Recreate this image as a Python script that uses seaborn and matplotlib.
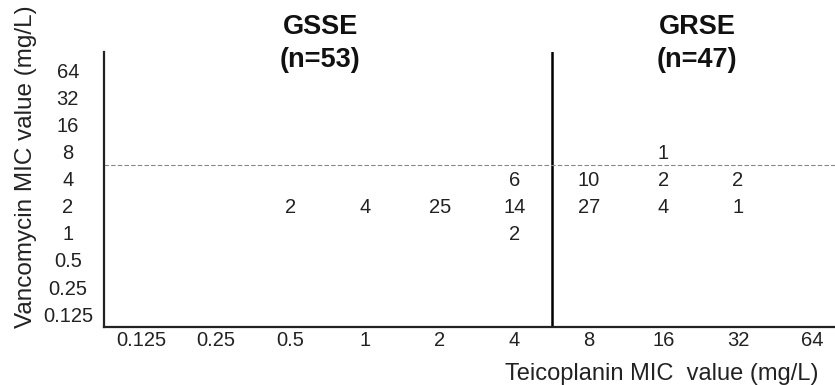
import numpy as np
import pandas as pd
import matplotlib
matplotlib.use("Agg")
import matplotlib.pyplot as plt
import seaborn as sns
from matplotlib.colors import ListedColormap

# MIC categories (mg/L)
teico_labels = ["0.125", "0.25", "0.5", "1", "2", "4", "8", "16", "32", "64"]
vanco_labels = ["64", "32", "16", "8", "4", "2", "1", "0.5", "0.25", "0.125"]

# number of isolates per (teicoplanin, vancomycin) cell
cell_teico = ["4", "8", "16", "32", "0.5", "1", "2", "4", "8", "16", "32", "4", "16"]
cell_vanco = ["4", "4", "4", "4", "2", "2", "2", "2", "2", "2", "2", "1", "8"]
cell_count = [6, 10, 2, 2, 2, 4, 25, 14, 27, 4, 1, 2, 1]

group_names = ["GSSE", "GRSE"]
group_n = ["(n=53)", "(n=47)"]

sns.set_style("white")
plt.rcParams["font.family"] = ["Liberation Sans", "DejaVu Sans"]

# build the grid table
grid = pd.DataFrame(np.nan, index=vanco_labels, columns=teico_labels)
for t, v, n in zip(cell_teico, cell_vanco, cell_count):
    grid.loc[v, t] = n

fig = plt.figure(figsize=(8.35, 3.85), dpi=100)
ax = fig.add_axes([104 / 835, 1 - 327 / 385, 1 - 104 / 835, (327 - 52) / 385])

sns.heatmap(grid, mask=grid.isna(), annot=True, fmt="g", cmap=ListedColormap(["white"]),
            cbar=False, ax=ax, annot_kws={"fontsize": 14.5, "color": "#222222"})

ax.set_xlim(0, 9.8)
ax.set_ylim(9.9, -0.24)

for side in ["left", "bottom"]:
    ax.spines[side].set_visible(True)
    ax.spines[side].set_color("#222222")
    ax.spines[side].set_linewidth(1.6)
for side in ["top", "right"]:
    ax.spines[side].set_visible(False)

ax.tick_params(axis="both", length=0, labelsize=14.5, colors="#222222")
ax.tick_params(axis="y", pad=26)
ax.tick_params(axis="x", pad=3)
plt.setp(ax.get_yticklabels(), rotation=0, ha="center")
plt.setp(ax.get_xticklabels(), rotation=0)

# separators: teicoplanin breakpoint and vancomycin breakpoint
ax.axvline(6, color="black", lw=1.8)
ax.axhline(3.93, color="#888888", lw=0.8, ls=(0, (4, 2)))

# group titles
for xc, name, n in zip([2.9, 7.95], group_names, group_n):
    ax.text(xc, -1.16, name, ha="center", va="center", fontsize=19.5,
            fontweight="bold", color="#111111", clip_on=False)
    ax.text(xc, 0.06, n, ha="center", va="center", fontsize=19.5,
            fontweight="bold", color="#111111", clip_on=False)

ax.set_xlabel("Teicoplanin MIC  value (mg/L)", fontsize=17, color="#222222")
ax.set_ylabel("Vancomycin MIC value (mg/L)", fontsize=17.5, color="#222222")
ax.xaxis.set_label_coords((662 - 104) / 731, (327 - 363) / 275)
ax.yaxis.set_label_coords((37 - 104) / 731, (327 - 167) / 275)

fig.savefig("out.png", dpi=100)
